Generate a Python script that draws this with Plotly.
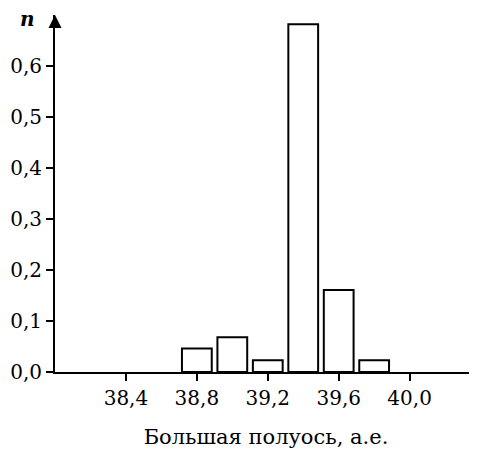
import plotly.graph_objects as go

# Data
bin_centers = [38.8, 39.0, 39.2, 39.4, 39.6, 39.8]
fractions = [0.046, 0.068, 0.023, 0.682, 0.161, 0.023]
x_tick_vals = [38.4, 38.8, 39.2, 39.6, 40.0]
x_tick_text = ["38,4", "38,8", "39,2", "39,6", "40,0"]
y_tick_vals = [0.0, 0.1, 0.2, 0.3, 0.4, 0.5, 0.6]
y_tick_text = ["0,0", "0,1", "0,2", "0,3", "0,4", "0,5", "0,6"]
x_title = "Большая полуось, а.е."
y_title = "n"

font_family = "DejaVu Serif"

fig = go.Figure()
fig.add_trace(go.Bar(
    x=bin_centers,
    y=fractions,
    width=[0.168] * len(bin_centers),
    marker=dict(color="white", line=dict(color="black", width=2)),
    showlegend=False,
))

fig.update_layout(
    width=469,
    height=442,
    margin=dict(l=47, r=0, t=7, b=78),
    plot_bgcolor="white",
    paper_bgcolor="white",
    font=dict(family=font_family, size=20, color="black"),
    xaxis=dict(
        range=[38.0, 40.38],
        tickvals=x_tick_vals,
        ticktext=x_tick_text,
        ticks="outside",
        ticklen=7,
        tickwidth=2,
        tickcolor="black",
        ticklabelstandoff=0,
        showline=True,
        linecolor="black",
        linewidth=2,
        showgrid=False,
        zeroline=False,
        automargin=False,
        title=dict(text=x_title, font=dict(size=21, family=font_family), standoff=20),
        tickfont=dict(size=20, family=font_family),
    ),
    yaxis=dict(
        range=[0, 0.70],
        tickvals=y_tick_vals,
        ticktext=y_tick_text,
        ticks="outside",
        ticklen=7,
        tickwidth=2,
        tickcolor="black",
        ticklabelstandoff=0,
        showline=True,
        linecolor="black",
        linewidth=2,
        showgrid=False,
        zeroline=False,
        automargin=False,
        tickfont=dict(size=20, family=font_family),
    ),
    annotations=[
        dict(
            x=0, y=1, xref="paper", yref="paper",
            ax=0, ay=14, axref="pixel", ayref="pixel",
            showarrow=True, arrowhead=2, arrowsize=1.3, arrowwidth=2,
            arrowcolor="black", text="",
        ),
        dict(
            x=0, y=1, xref="paper", yref="paper",
            xanchor="right", yanchor="top", xshift=-18, yshift=10,
            text="<b><i>" + y_title + "</i></b>", showarrow=False,
            font=dict(size=20, family=font_family),
        ),
    ],
)

fig.write_html("out.html")
